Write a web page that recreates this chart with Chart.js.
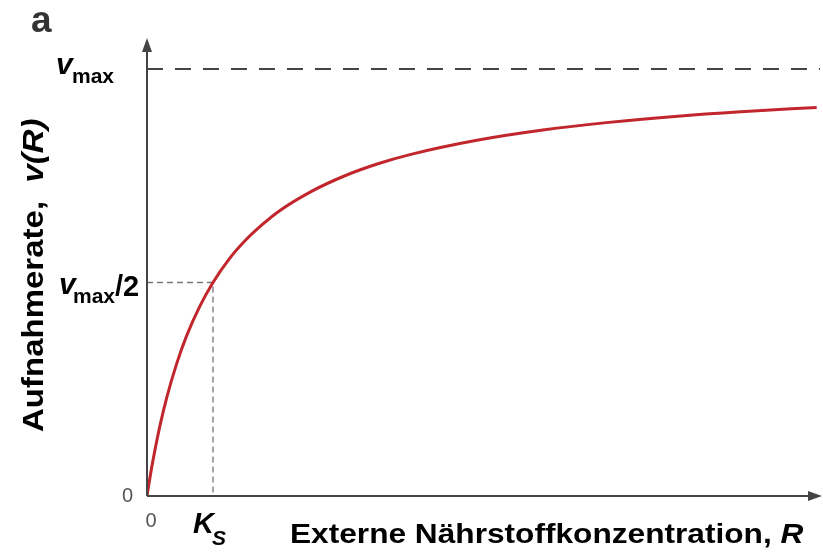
<!DOCTYPE html>
<html>
<head>
<meta charset="utf-8">
<script src="https://cdn.jsdelivr.net/npm/chart.js@4.4.1/dist/chart.umd.min.js"></script>
<style>
    body { margin: 0; background: #fff; }
    #grafico { display: block; }
</style>
</head>
<body>
<canvas id="grafico" width="823" height="553"></canvas>
<script>
// Konzentration R (in Einheiten von Ks) und Aufnahmerate v (in Einheiten von vmax)
var konzentration = [0, 0.05, 0.1, 0.2, 0.3, 0.45, 0.6, 0.8, 1, 1.25, 1.5, 1.75, 2, 2.5, 3, 3.5, 4, 5, 6, 7, 8, 9, 10.15]
var aufnahme = [0, 0.048, 0.091, 0.167, 0.231, 0.31, 0.375, 0.444, 0.5, 0.556, 0.6, 0.636, 0.667, 0.714, 0.75, 0.778, 0.8, 0.833, 0.857, 0.875, 0.889, 0.9, 0.91]

var vmax = 1
var ks = 1
var xMax = 10.2
var yMax = 1.0726

var fonte = '"Liberation Sans", Arial, sans-serif'

function texto(ctx, str, font, x, y, cor, align){
    ctx.font = font + ' ' + fonte
    ctx.fillStyle = cor || '#000'
    ctx.textAlign = align || 'left'
    ctx.textBaseline = 'alphabetic'
    ctx.fillText(str, x, y)
}

function textoEsticado(ctx, partes, x, y, escala, angulo){
    ctx.save()
    ctx.translate(x, y)
    if(angulo) ctx.rotate(angulo)
    ctx.scale(escala, 1)
    var pos = 0
    partes.forEach(function (p){
        ctx.font = p.font + ' ' + fonte
        ctx.fillStyle = '#000'
        ctx.textAlign = 'left'
        ctx.textBaseline = 'alphabetic'
        ctx.fillText(p.t, pos, 0)
        pos += ctx.measureText(p.t).width
    })
    ctx.restore()
}

var linhasAuxiliares = {
    id: 'linhasAuxiliares',
    beforeDatasetsDraw: function (chart){
        var ctx = chart.ctx
        var x = chart.scales.x
        var y = chart.scales.y
        var x0 = x.getPixelForValue(0)
        var y0 = y.getPixelForValue(0)
        var yMaxPx = y.getPixelForValue(vmax)
        var yMeio = y.getPixelForValue(vmax / 2)
        var xKs = x.getPixelForValue(ks)

        ctx.save()
        // vmax
        ctx.strokeStyle = '#444'
        ctx.lineWidth = 2
        ctx.setLineDash([16, 12])
        ctx.beginPath()
        ctx.moveTo(x0, yMaxPx)
        ctx.lineTo(x.right, yMaxPx)
        ctx.stroke()

        // vmax/2 und Ks
        ctx.strokeStyle = '#777'
        ctx.lineWidth = 1.3
        ctx.setLineDash([6, 4])
        ctx.beginPath()
        ctx.moveTo(x0, yMeio)
        ctx.lineTo(xKs, yMeio)
        ctx.lineTo(xKs, y0)
        ctx.stroke()
        ctx.restore()
    },
    afterDraw: function (chart){
        var ctx = chart.ctx
        var x = chart.scales.x
        var y = chart.scales.y
        var x0 = x.getPixelForValue(0)
        var y0 = y.getPixelForValue(0)
        var yMaxPx = y.getPixelForValue(vmax)
        var yMeio = y.getPixelForValue(vmax / 2)
        var xKs = x.getPixelForValue(ks)

        ctx.save()
        // Achsen mit Pfeilen
        ctx.strokeStyle = '#444'
        ctx.fillStyle = '#444'
        ctx.lineWidth = 2
        ctx.beginPath()
        ctx.moveTo(x0, y0)
        ctx.lineTo(x0, chart.chartArea.top + 8)
        ctx.moveTo(x0, y0)
        ctx.lineTo(chart.chartArea.right - 8, y0)
        ctx.stroke()

        ctx.beginPath()
        ctx.moveTo(x0, chart.chartArea.top)
        ctx.lineTo(x0 - 5, chart.chartArea.top + 14)
        ctx.lineTo(x0 + 5, chart.chartArea.top + 14)
        ctx.closePath()
        ctx.fill()

        ctx.beginPath()
        ctx.moveTo(chart.chartArea.right + 2, y0)
        ctx.lineTo(chart.chartArea.right - 12, y0 - 5)
        ctx.lineTo(chart.chartArea.right - 12, y0 + 5)
        ctx.closePath()
        ctx.fill()
        ctx.restore()

        texto(ctx, 'a', 'bold 37px', 31, 32, '#333')

        // Beschriftung der y-Achse
        texto(ctx, 'v', 'italic bold 30px', 56, yMaxPx + 5)
        texto(ctx, 'max', 'bold 21px', 72, yMaxPx + 14)

        texto(ctx, 'v', 'italic bold 30px', 59, yMeio + 11)
        texto(ctx, 'max', 'bold 21px', 73, yMeio + 20)
        texto(ctx, '/2', 'bold 29px', 115, yMeio + 13)

        texto(ctx, '0', '20px', x0 - 14, y0 + 6, '#555', 'right')

        // Beschriftung der x-Achse
        texto(ctx, '0', '20px', x0 + 4, y0 + 31, '#555', 'center')
        texto(ctx, 'K', 'italic bold 29px', xKs - 20, y0 + 37)
        texto(ctx, 'S', 'italic bold 21px', xKs - 1, y0 + 49)

        textoEsticado(ctx, [
            {t: 'Externe Nährstoffkonzentration, ', font: 'bold 28px'},
            {t: 'R', font: 'italic bold 28px'}
        ], 290, 543, 1.13)

        textoEsticado(ctx, [
            {t: 'Aufnahmerate,  ', font: 'bold 30px'},
            {t: 'v(R)', font: 'italic bold 30px'}
        ], 43, 432, 1.1, -Math.PI / 2)
    }
}

var pontos = []
konzentration.forEach(function (r, i){
    pontos.push({x: r, y: aufnahme[i]})
})

var config = {
    type: 'line',
    data: {
        datasets: [{
            label: 'v(R)',
            data: pontos,
            borderColor: '#c2262d',
            borderWidth: 3,
            pointRadius: 0,
            fill: false,
            cubicInterpolationMode: 'monotone'
        }]
    },
    options: {
        responsive: false,
        animation: false,
        layout: {
            padding: {left: 147, right: 3, top: 38, bottom: 57}
        },
        plugins: {
            legend: {display: false},
            tooltip: {enabled: false}
        },
        scales: {
            x: {type: 'linear', min: 0, max: xMax, display: false},
            y: {type: 'linear', min: 0, max: yMax, display: false}
        }
    },
    plugins: [linhasAuxiliares]
}

var myChart = new Chart(document.getElementById('grafico'), config)
</script>
</body>
</html>
